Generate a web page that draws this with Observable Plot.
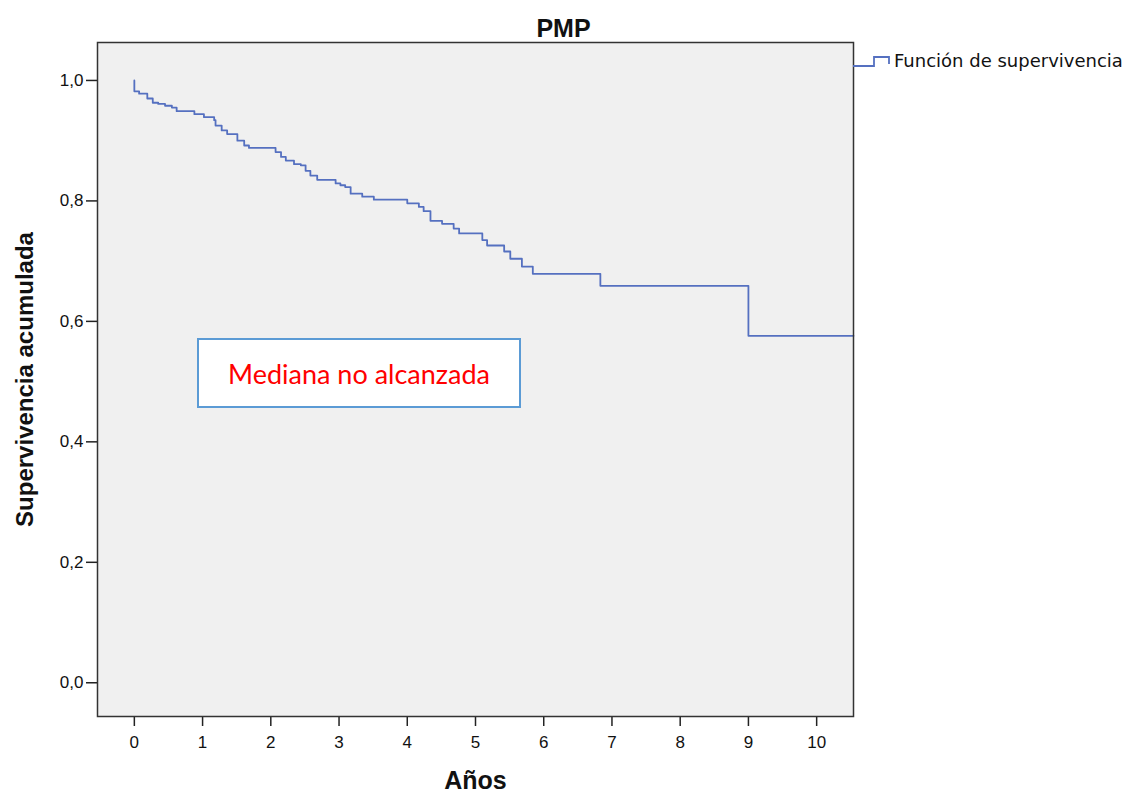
<!DOCTYPE html>
<html>
<head>
<meta charset="utf-8">
<script src="https://cdn.jsdelivr.net/npm/d3@7"></script>
<script src="https://cdn.jsdelivr.net/npm/@observablehq/plot@0.6"></script>
<style>
  html, body { margin: 0; padding: 0; background: #fff; }
  #wrap { position: relative; width: 1136px; height: 796px; font-family: "Liberation Sans", Arial, sans-serif; }
  #legend { position: absolute; left: 853px; top: 50px; display: flex; align-items: center; font-size: 18px; color: #111;
            font-family: "DejaVu Sans", Verdana, sans-serif; }
  #note { position: absolute; left: 197px; top: 338px; width: 320px; height: 66px; background: #fff;
          border: 2px solid #5b9bd5; display: flex; align-items: center; justify-content: center;
          color: #ff0000; font-family: Lato, "Open Sans", sans-serif; font-size: 27px; }
</style>
</head>
<body>
<div id="wrap"></div>
<script>
const title = "PMP";
const xLabel = "Años";
const yLabel = "Supervivencia acumulada";
const legendLabel = "Función de supervivencia";
const noteText = "Mediana no alcanzada";

const xTicks = [0, 1, 2, 3, 4, 5, 6, 7, 8, 9, 10];
const yTicks = [0, 0.2, 0.4, 0.6, 0.8, 1.0];

const times = [0, 0, 0.07, 0.19, 0.27, 0.35, 0.45, 0.55, 0.62, 0.88, 1.02, 1.17, 1.19, 1.28, 1.36, 1.51, 1.61, 1.68,
  2.07, 2.15, 2.22, 2.34, 2.44, 2.51, 2.58, 2.68, 2.95, 3.02, 3.09, 3.17, 3.34, 3.51, 4.0, 4.17, 4.24, 4.34, 4.51,
  4.68, 4.76, 5.10, 5.17, 5.42, 5.51, 5.68, 5.84, 6.83, 9.0, 10.54];
const survival = [1.0, 0.982, 0.978, 0.970, 0.963, 0.961, 0.958, 0.955, 0.949, 0.944, 0.939, 0.934, 0.925, 0.917, 0.911,
  0.900, 0.892, 0.888, 0.881, 0.873, 0.867, 0.861, 0.859, 0.850, 0.842, 0.835, 0.829, 0.826, 0.823, 0.812, 0.807,
  0.802, 0.796, 0.790, 0.783, 0.767, 0.762, 0.754, 0.746, 0.735, 0.726, 0.716, 0.704, 0.691, 0.679, 0.659, 0.576, 0.576];

const data = times.map((t, i) => ({t, s: survival[i]}));
const lineColor = "#5570c0";
const fmt = d => d.toFixed(1).replace(".", ",");

const plot = Plot.plot({
  width: 1136,
  height: 796,
  marginLeft: 97,
  marginRight: 283,
  marginTop: 42,
  marginBottom: 80,
  style: {fontFamily: "'Liberation Sans', Arial, sans-serif", fontSize: "17px", color: "#111", background: "#fff"},
  x: {domain: [-0.54, 10.54]},
  y: {domain: [-0.056, 1.063]},
  marks: [
    Plot.frame({fill: "#f0f0f0"}),
    Plot.axisX({ticks: xTicks, tickSize: 10, tickPadding: 9, tickFormat: d => String(d), label: null, stroke: "#222", strokeWidth: 1.5, fontSize: 17}),
    Plot.axisY({ticks: yTicks, tickSize: 11, tickPadding: 3, tickFormat: fmt, label: null, stroke: "#222", strokeWidth: 1.5, fontSize: 17}),
    Plot.line(data, {x: "t", y: "s", curve: "step-after", stroke: lineColor, strokeWidth: 1.8}),
    Plot.frame({stroke: "#333", strokeWidth: 1.5}),
    Plot.text([title], {frameAnchor: "top", lineAnchor: "middle", dx: 88, dy: -14, fontSize: 25, fontWeight: "bold", fill: "#111"}),
    Plot.text([xLabel], {frameAnchor: "bottom", lineAnchor: "middle", dy: 64, fontSize: 25, fontWeight: "bold", fill: "#111"}),
    Plot.text([yLabel], {frameAnchor: "left", textAnchor: "middle", lineAnchor: "middle", dx: -72, rotate: -90, fontSize: 24, fontWeight: "bold", fill: "#111"})
  ]
});

const wrap = document.getElementById("wrap");
wrap.appendChild(plot);

const legend = document.createElement("div");
legend.id = "legend";
legend.innerHTML = `<svg width="40" height="20" style="margin-right:1px"><path d="M0,15 H21 V6 H36 V13" fill="none" stroke="${lineColor}" stroke-width="1.8"/></svg><span>${legendLabel}</span>`;
wrap.appendChild(legend);

const note = document.createElement("div");
note.id = "note";
note.textContent = noteText;
wrap.appendChild(note);
</script>
</body>
</html>
